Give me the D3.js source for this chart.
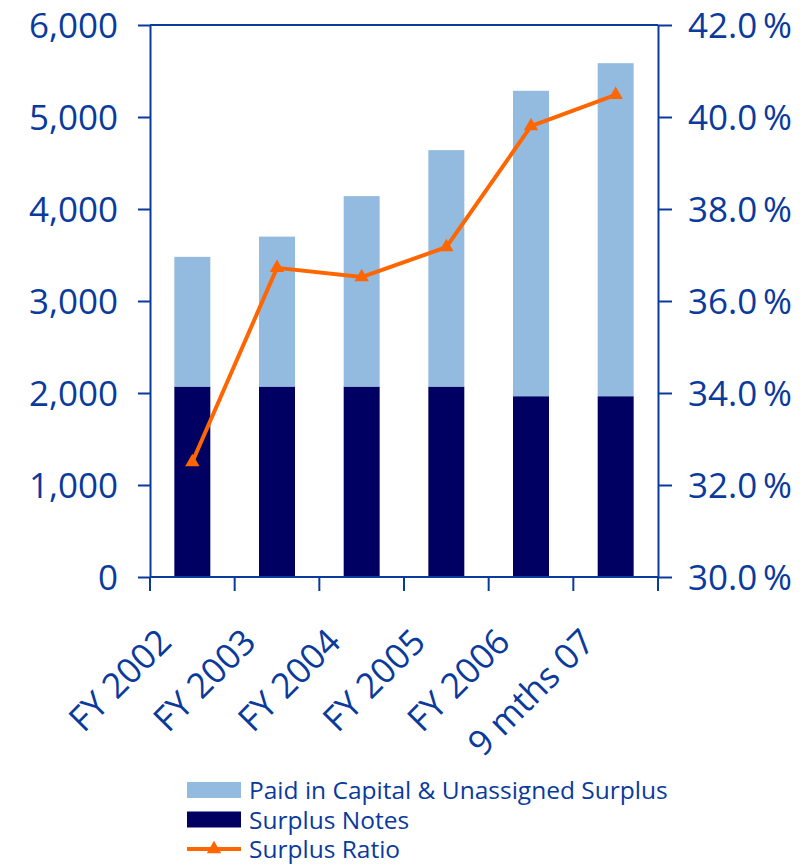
<!DOCTYPE html>
<html>
<head>
<meta charset="utf-8">
<script src="https://cdn.jsdelivr.net/npm/d3@7"></script>
<style>
  body { margin: 0; background: #fff; }
  svg { display: block; }
  svg text { font-family: "Open Sans", sans-serif; }
</style>
</head>
<body>
<div id="chart"></div>
<script>
// Data
const categories = ["FY 2002", "FY 2003", "FY 2004", "FY 2005", "FY 2006", "9 mths 07"];
const surplusNotes = [2070, 2070, 2070, 2070, 1965, 1965];
const paidInCapital = [1410, 1630, 2070, 2570, 3320, 3620];
const surplusRatio = [32.5, 36.72, 36.52, 37.17, 39.8, 40.48];
const leftTicks = [0, 1000, 2000, 3000, 4000, 5000, 6000];
const rightTicks = [30, 32, 34, 36, 38, 40, 42];
const legendLabels = ["Paid in Capital & Unassigned Surplus", "Surplus Notes", "Surplus Ratio"];

const blue = "#0a3a9c";
const lightBlue = "#93bbe0";
const navy = "#000063";
const orange = "#ff6600";

function drawChart() {
    const width = 809, height = 865;
    const plot = { left: 150, right: 658, top: 25, bottom: 577 };

    const svg = d3.select("#chart")
        .append("svg")
        .attr("width", width)
        .attr("height", height);

    const padInner = 0.575;
    const x = d3.scaleBand()
        .domain(categories)
        .range([plot.left, plot.right])
        .paddingInner(padInner)
        .paddingOuter(padInner / 2);

    const y = d3.scaleLinear().domain([0, 6000]).range([plot.bottom, plot.top]);
    const y2 = d3.scaleLinear().domain([30, 42]).range([plot.bottom, plot.top]);

    // Stacked bars
    const rows = categories.map((c, i) => ({ cat: c, notes: surplusNotes[i], paid: paidInCapital[i] }));
    const stacked = d3.stack().keys(["notes", "paid"])(rows);
    const fills = { notes: navy, paid: lightBlue };

    svg.append("g").selectAll("g")
        .data(stacked)
        .join("g")
        .attr("fill", d => fills[d.key])
        .selectAll("rect")
        .data(d => d)
        .join("rect")
        .attr("x", d => x(d.data.cat))
        .attr("width", x.bandwidth())
        .attr("y", d => y(d[1]))
        .attr("height", d => y(d[0]) - y(d[1]));

    // Frame lines top and bottom
    svg.append("line")
        .attr("x1", plot.left).attr("x2", plot.right)
        .attr("y1", plot.top).attr("y2", plot.top)
        .attr("stroke", blue).attr("stroke-width", 2);
    svg.append("line")
        .attr("x1", plot.left).attr("x2", plot.right)
        .attr("y1", plot.bottom).attr("y2", plot.bottom)
        .attr("stroke", blue).attr("stroke-width", 2);

    // Left axis
    const leftAxis = svg.append("g")
        .attr("transform", `translate(${plot.left},0)`)
        .call(d3.axisLeft(y).tickValues(leftTicks).tickFormat(d3.format(","))
            .tickSize(12).tickSizeOuter(0).tickPadding(20));

    // Right axis
    const rightAxis = svg.append("g")
        .attr("transform", `translate(${plot.right},0)`)
        .call(d3.axisRight(y2).tickValues(rightTicks)
            .tickFormat(d => d3.format(".1f")(d) + "\u2009%")
            .tickSize(14).tickSizeOuter(0).tickPadding(16));

    [leftAxis, rightAxis].forEach(g => {
        g.attr("font-family", null);
        g.select(".domain").attr("stroke", blue).attr("stroke-width", 2);
        g.selectAll(".tick line").attr("stroke", blue).attr("stroke-width", 2);
        g.selectAll(".tick text")
            .attr("fill", blue)
            .style("font-size", "35px")
            .attr("dy", "0.36em");
    });

    // Category boundary ticks on the x axis
    const step = x.step();
    const bounds = d3.range(categories.length + 1).map(i => plot.left + i * step);
    svg.append("g").selectAll("line")
        .data(bounds)
        .join("line")
        .attr("x1", d => d).attr("x2", d => d)
        .attr("y1", plot.bottom).attr("y2", plot.bottom + 14)
        .attr("stroke", blue).attr("stroke-width", 2);

    // Rotated category labels
    svg.append("g").selectAll("text")
        .data(categories)
        .join("text")
        .attr("transform", d => `translate(${x(d) + x.bandwidth() / 2 - 19},644) rotate(-45)`)
        .attr("text-anchor", "end")
        .attr("fill", blue)
        .style("font-size", "35px")
        .text(d => d);

    // Surplus ratio line
    const cx = c => x(c) + x.bandwidth() / 2;
    const line = d3.line()
        .x((d, i) => cx(categories[i]))
        .y(d => y2(d));

    svg.append("path")
        .datum(surplusRatio)
        .attr("fill", "none")
        .attr("stroke", orange)
        .attr("stroke-width", 4)
        .attr("stroke-linejoin", "round")
        .attr("d", line);

    const tri = d3.symbol(d3.symbolTriangle).size(90);
    svg.append("g").selectAll("path")
        .data(surplusRatio)
        .join("path")
        .attr("transform", (d, i) => `translate(${cx(categories[i])},${y2(d)})`)
        .attr("d", tri)
        .attr("fill", orange);

    // Legend
    const legend = svg.append("g").attr("transform", "translate(187,0)");
    const rowY = [790, 819.5, 849];

    legend.append("rect")
        .attr("x", 0).attr("y", rowY[0] - 8).attr("width", 54).attr("height", 16)
        .attr("fill", lightBlue);
    legend.append("rect")
        .attr("x", 0).attr("y", rowY[1] - 8).attr("width", 54).attr("height", 16)
        .attr("fill", navy);
    legend.append("line")
        .attr("x1", 0).attr("x2", 54).attr("y1", rowY[2]).attr("y2", rowY[2])
        .attr("stroke", orange).attr("stroke-width", 4);
    legend.append("path")
        .attr("transform", `translate(27,${rowY[2]})`)
        .attr("d", tri)
        .attr("fill", orange);

    legend.selectAll("text")
        .data(legendLabels)
        .join("text")
        .attr("x", 62)
        .attr("y", (d, i) => rowY[i] + 9)
        .attr("fill", blue)
        .style("font-size", "24.5px")
        .text(d => d);
}

drawChart();
</script>
</body>
</html>
